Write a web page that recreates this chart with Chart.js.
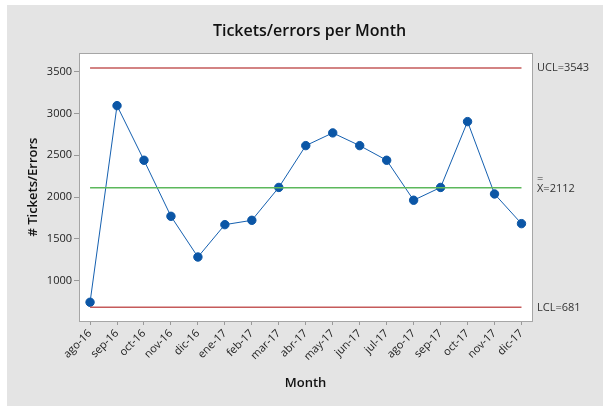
<!DOCTYPE html>
<html>
<head>
<meta charset="utf-8">
<script src="https://cdn.jsdelivr.net/npm/chart.js@4"></script>
<style>
  html, body { margin: 0; padding: 0; background: #ffffff; }
  #wrap { width: 603px; height: 406px; }
</style>
</head>
<body>
<div id="wrap"><canvas id="ctrlChart" width="603" height="406"></canvas></div>
<script>
// Data
const months = ["ago-16", "sep-16", "oct-16", "nov-16", "dic-16", "ene-17", "feb-17", "mar-17", "abr-17",
  "may-17", "jun-17", "jul-17", "ago-17", "sep-17", "oct-17", "nov-17", "dic-17"];
const tickets = [742, 3093, 2440, 1770, 1283, 1670, 1722, 2115, 2615, 2767, 2615, 2440, 1962, 2115, 2902, 2037, 1682];
const yTicks = [1000, 1500, 2000, 2500, 3000, 3500];
const ucl = 3543;
const mean = 2112;
const lcl = 681;

const FONT = "'Open Sans', 'Noto Sans', sans-serif";

// flat line across all months
function limitLine(v) {
  return [{ x: 0, y: v }, { x: months.length - 1, y: v }];
}

// grey panel, white plot area with border, limit labels on the right
const framePlugin = {
  id: "frame",
  beforeDraw(chart) {
    const c = chart.ctx;
    const a = chart.chartArea;
    c.save();
    c.fillStyle = "#e4e4e4";
    c.fillRect(7, 5, chart.width - 7, chart.height - 5);
    c.fillStyle = "#ffffff";
    c.fillRect(a.left, a.top, a.right - a.left, a.bottom - a.top);
    c.restore();
  },
  afterDraw(chart) {
    const c = chart.ctx;
    const a = chart.chartArea;
    const y = chart.scales.y;
    c.save();
    c.strokeStyle = "#a6a6a6";
    c.lineWidth = 1;
    c.strokeRect(Math.round(a.left) + 0.5, Math.round(a.top) + 0.5,
      Math.round(a.right - a.left), Math.round(a.bottom - a.top));
    c.fillStyle = "#333333";
    c.font = "11px " + FONT;
    c.textBaseline = "middle";
    c.textAlign = "left";
    const tx = a.right + 5;
    c.fillText("UCL=" + ucl, tx, y.getPixelForValue(ucl));
    c.fillText("X=" + mean, tx, y.getPixelForValue(mean) + 1);
    c.fillText("=", tx, y.getPixelForValue(mean) - 9);
    c.fillText("LCL=" + lcl, tx, y.getPixelForValue(lcl));
    c.restore();
  }
};

new Chart(document.getElementById("ctrlChart"), {
  type: "line",
  data: {
    datasets: [
      {
        label: "UCL",
        data: limitLine(ucl),
        borderColor: "#c55a5a",
        borderWidth: 1.5,
        pointRadius: 0
      },
      {
        label: "LCL",
        data: limitLine(lcl),
        borderColor: "#c55a5a",
        borderWidth: 1.5,
        pointRadius: 0
      },
      {
        label: "Mean",
        data: limitLine(mean),
        borderColor: "#5cb85c",
        borderWidth: 1.5,
        pointRadius: 0
      },
      {
        label: "# Tickets/Errors",
        data: tickets.map((v, i) => ({ x: i, y: v })),
        borderColor: "#1560b0",
        borderWidth: 1,
        backgroundColor: "#0b56a6",
        pointBackgroundColor: "#0b56a6",
        pointBorderColor: "#0b56a6",
        pointRadius: 4.2,
        tension: 0
      }
    ]
  },
  options: {
    responsive: false,
    animation: false,
    layout: { padding: { left: 16, right: 0, top: 0, bottom: 0 } },
    plugins: {
      legend: { display: false },
      tooltip: { enabled: false },
      title: {
        display: true,
        text: "Tickets/errors per Month",
        color: "#111111",
        font: { family: FONT, size: 16, weight: "600", lineHeight: 1.2 },
        padding: { top: 22, bottom: 12 }
      }
    },
    scales: {
      x: {
        type: "linear",
        min: -0.41,
        max: months.length - 1 + 0.39,
        afterBuildTicks: s => { s.ticks = months.map((m, i) => ({ value: i })); },
        afterFit: s => { s.height = 85; },
        border: { display: false },
        grid: { drawOnChartArea: false, drawTicks: true, tickLength: 4, tickColor: "#999999" },
        ticks: {
          autoSkip: false,
          minRotation: 45,
          maxRotation: 45,
          padding: 2,
          color: "#222222",
          font: { family: FONT, size: 11 },
          callback: v => months[v]
        },
        title: {
          display: true,
          text: "Month",
          color: "#111111",
          font: { family: FONT, size: 13, weight: "600", lineHeight: 1.2 },
          padding: { top: 0, bottom: 15 }
        }
      },
      y: {
        min: 518,
        max: 3720,
        afterBuildTicks: s => { s.ticks = yTicks.map(v => ({ value: v })); },
        afterFit: s => { s.width = 63; },
        border: { display: false },
        grid: { drawOnChartArea: false, drawTicks: true, tickLength: 5, tickColor: "#999999" },
        ticks: {
          padding: 2,
          color: "#222222",
          font: { family: FONT, size: 11 },
          callback: v => String(v)
        },
        title: {
          display: true,
          text: "# Tickets/Errors",
          color: "#111111",
          font: { family: FONT, size: 13, weight: "600", lineHeight: 1.2 },
          padding: { top: 9, bottom: 0 }
        }
      },
      // empty right-hand strip that holds the UCL / mean / LCL labels
      y2: {
        position: "right",
        afterFit: s => { s.width = 71; },
        border: { display: false },
        grid: { display: false },
        ticks: { display: false }
      }
    }
  },
  plugins: [framePlugin]
});
</script>
</body>
</html>
